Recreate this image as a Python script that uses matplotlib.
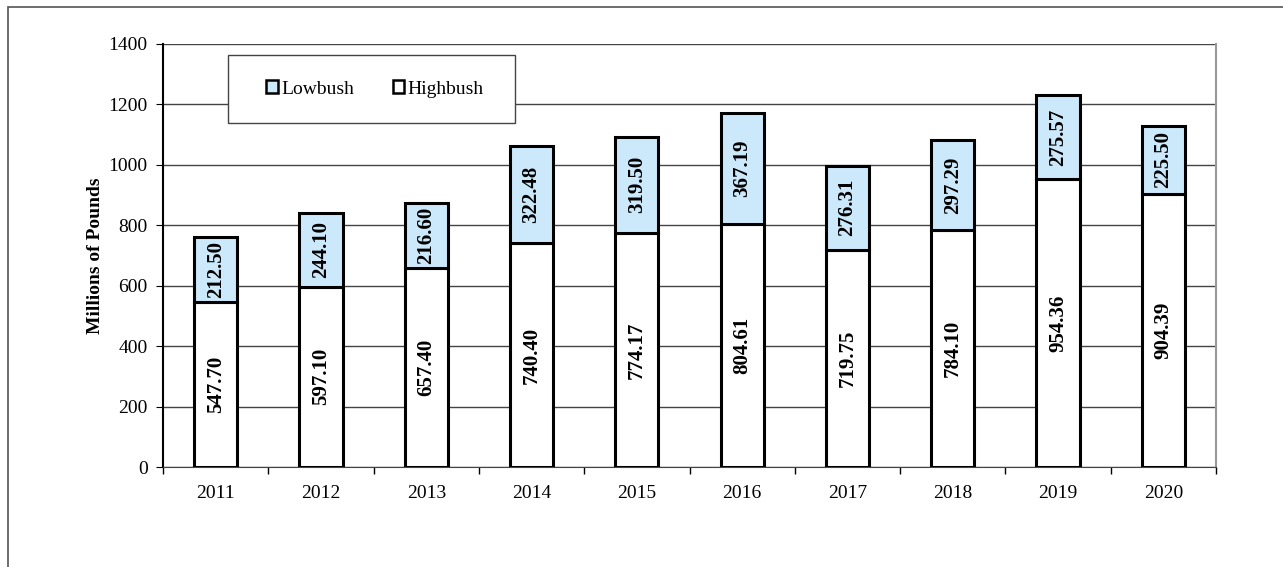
import matplotlib.pyplot as plt
from matplotlib.patches import Rectangle

years = ['2011', '2012', '2013', '2014', '2015', '2016', '2017', '2018', '2019', '2020']
highbush = [547.70, 597.10, 657.40, 740.40, 774.17, 804.61, 719.75, 784.10, 954.36, 904.39]
lowbush = [212.50, 244.10, 216.60, 322.48, 319.50, 367.19, 276.31, 297.29, 275.57, 225.50]

plt.rcParams['font.family'] = ['Liberation Serif', 'DejaVu Serif']

fig = plt.figure(figsize=(12.83, 5.67), dpi=100)
ax = fig.add_axes([163 / 1283, 1 - 467 / 567, (1216 - 163) / 1283, (467 - 44) / 567])

# outer frame (only left and top edges show in the picture)
fig.patches.append(Rectangle((8 / 1283, -0.1), 1.2, 1 - 6.5 / 567 + 0.1,
                             transform=fig.transFigure, fill=False,
                             edgecolor='#555555', linewidth=1.2))

x = range(len(years))
w = 0.41
hb = ax.bar(x, highbush, width=w, color='white', edgecolor='black', linewidth=2.2, zorder=3, label='Highbush')
lb = ax.bar(x, lowbush, width=w, bottom=highbush, color='#cce9fb', edgecolor='black', linewidth=2.2, zorder=3, label='Lowbush')

for i in x:
    ax.text(i, highbush[i] / 2, f'{highbush[i]:.2f}', rotation=90, ha='center', va='center',
            fontsize=15, fontweight='bold', zorder=4)
    ax.text(i, highbush[i] + lowbush[i] / 2, f'{lowbush[i]:.2f}', rotation=90, ha='center', va='center',
            fontsize=15, fontweight='bold', zorder=4)

ax.set_xlim(-0.5, len(years) - 0.5)
ax.set_ylim(0, 1400)
ax.set_yticks(range(0, 1401, 200))
ax.set_xticks(list(x))
ax.set_xticklabels(years, fontsize=14)
ax.set_xticks([i + 0.5 for i in range(-1, len(years))], minor=True)
ax.tick_params(axis='x', which='major', length=0, pad=13)
ax.tick_params(axis='x', which='minor', length=5, direction='out', width=1)
ax.tick_params(axis='y', labelsize=14, length=5, direction='out', pad=6)
ax.yaxis.grid(True, color='#444444', linewidth=1, zorder=0)
ax.set_axisbelow(True)

ax.spines['left'].set_color('black')
ax.spines['left'].set_linewidth(1.5)
ax.spines['bottom'].set_color('#444444')
ax.spines['top'].set_visible(False)
ax.spines['right'].set_color('#999999')
ax.spines['right'].set_linewidth(1.5)

ax.set_ylabel('Millions of Pounds', fontsize=14, fontweight='bold', labelpad=3)

# legend box drawn separately so its size matches the reference
fig.patches.append(Rectangle((228 / 1283, 1 - 123 / 567), (515 - 228) / 1283, (123 - 55) / 567,
                             transform=fig.transFigure, facecolor='white',
                             edgecolor='#444444', linewidth=1, zorder=5))
leg = fig.legend([lb, hb], ['Lowbush', 'Highbush'], ncol=2, loc='center',
                 bbox_to_anchor=(375 / 1283, 1 - 89 / 567),
                 fontsize=14, frameon=False, handlelength=0.6, handleheight=0.6,
                 handletextpad=0.15, columnspacing=2.0)
leg.set_zorder(6)
for h in leg.legend_handles:
    h.set_linewidth(1.8)

fig.savefig('out.png', dpi=100)
